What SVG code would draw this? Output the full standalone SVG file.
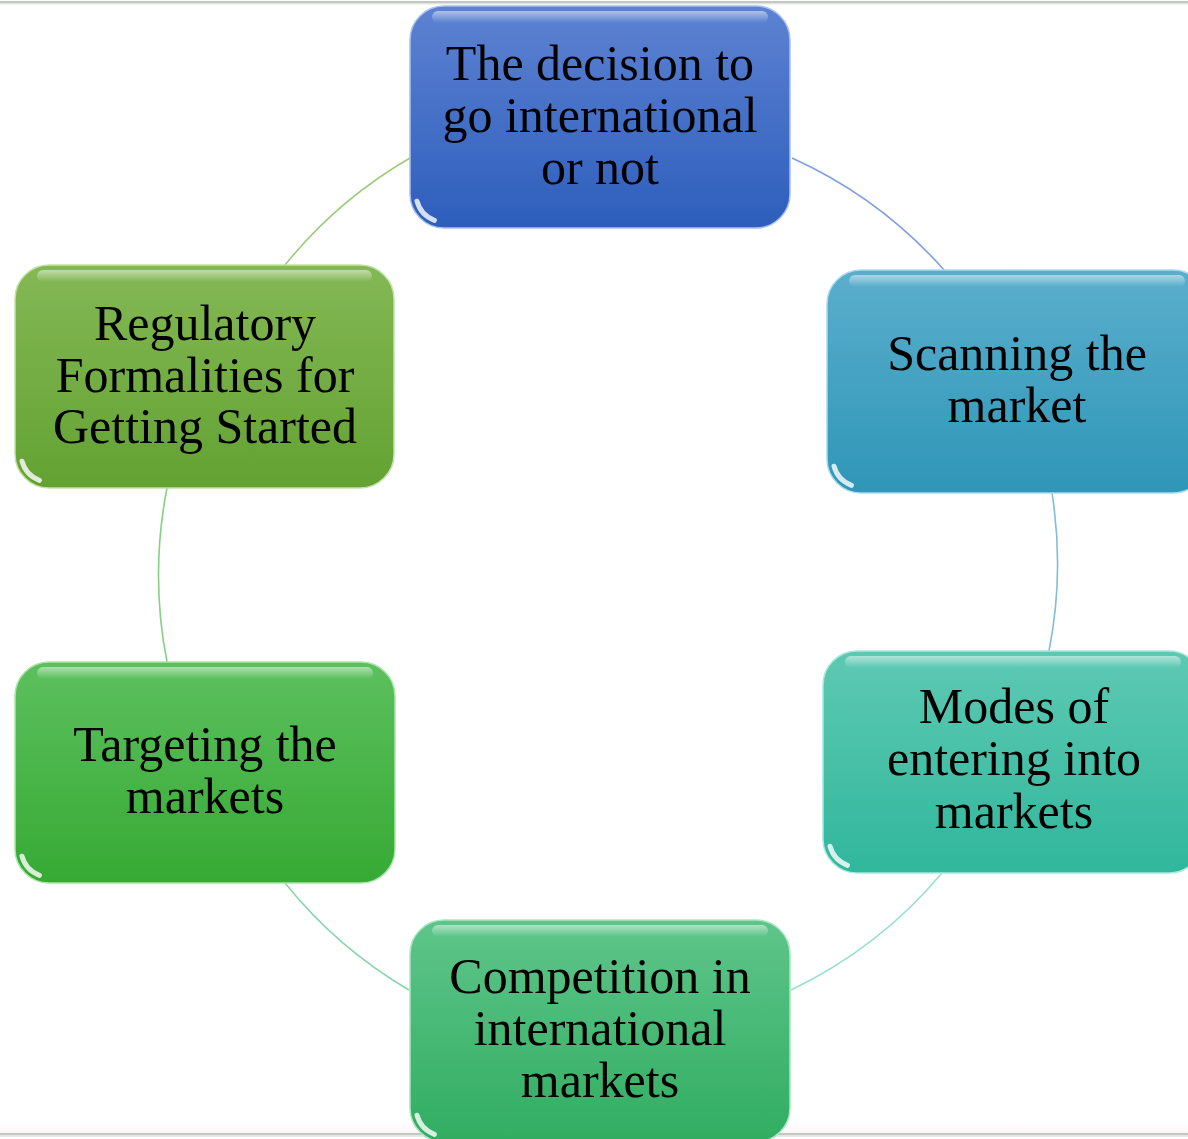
<svg xmlns="http://www.w3.org/2000/svg" width="1188" height="1139" viewBox="0 0 1188 1139">
<defs>
<linearGradient id="g1" x1="0" y1="0" x2="0" y2="1"><stop offset="0" stop-color="#5d82d2"/><stop offset="1" stop-color="#2d5ebc"/></linearGradient>
<linearGradient id="g2" x1="0" y1="0" x2="0" y2="1"><stop offset="0" stop-color="#5aaecc"/><stop offset="1" stop-color="#2f96b8"/></linearGradient>
<linearGradient id="g3" x1="0" y1="0" x2="0" y2="1"><stop offset="0" stop-color="#5ec9b3"/><stop offset="1" stop-color="#30b79c"/></linearGradient>
<linearGradient id="g4" x1="0" y1="0" x2="0" y2="1"><stop offset="0" stop-color="#5ec58a"/><stop offset="1" stop-color="#31ad61"/></linearGradient>
<linearGradient id="g5" x1="0" y1="0" x2="0" y2="1"><stop offset="0" stop-color="#5dc05e"/><stop offset="1" stop-color="#36aa34"/></linearGradient>
<linearGradient id="g6" x1="0" y1="0" x2="0" y2="1"><stop offset="0" stop-color="#84b855"/><stop offset="1" stop-color="#63a232"/></linearGradient>
<linearGradient id="shine" x1="0" y1="0" x2="0" y2="1"><stop offset="0" stop-color="#ffffff" stop-opacity="0.5"/><stop offset="1" stop-color="#ffffff" stop-opacity="0"/></linearGradient>
<linearGradient id="edge" x1="0" y1="0" x2="0" y2="1"><stop offset="0" stop-color="#fdf8fa" stop-opacity="0"/><stop offset="1" stop-color="#fbf4f7"/></linearGradient>
</defs>
<style>
.box{stroke-width:1.5}
.hl{fill:url(#shine)}
.glint{fill:none;stroke:#ffffff;stroke-width:5;stroke-linecap:round;stroke-opacity:0.8}
.lbl{font-family:"Liberation Serif","Times New Roman",serif;font-size:50px;fill:#000;text-anchor:middle}
.arc{fill:none;stroke-width:1.6}
</style>
<rect x="0" y="0" width="1188" height="1139" fill="#ffffff"/>
<rect x="0" y="1122" width="1188" height="11" fill="url(#edge)"/>
<rect x="0" y="1" width="1188" height="2.5" fill="#c3c7c3"/>
<rect x="0" y="3.5" width="1188" height="1" fill="#e3e7e3"/>
<rect x="0" y="1133" width="1188" height="2.5" fill="#c3c7c3"/>
<rect x="0" y="1135.5" width="1188" height="1.5" fill="#e6ebe6"/>

<g id="connectors">
<path class="arc" stroke="#7f9fdf" d="M792,158 A452,452 0 0 1 945,271"/>
<path class="arc" stroke="#80bdd6" d="M1052,493 A452,452 0 0 1 1049,651"/>
<path class="arc" stroke="#9adfcf" d="M942,873 A452,452 0 0 1 791,990"/>
<path class="arc" stroke="#88d5a9" d="M409,990 A452,452 0 0 1 285,883"/>
<path class="arc" stroke="#84d184" d="M167,662 A452,452 0 0 1 167,488"/>
<path class="arc" stroke="#9dcb7d" d="M285,265 A452,452 0 0 1 410,158"/>
</g>

<g id="node1">
<rect class="box" x="410" y="6" width="380" height="222" rx="34" fill="url(#g1)" stroke="#a9c0ee"/>
<rect class="hl" x="432" y="11" width="336" height="12" rx="6"/>
<path class="glint" d="M417,201.2 A28,28 0 0 0 434.4,220.3"/>
<text class="lbl"><tspan x="600" y="80">The decision to</tspan><tspan x="600" y="132">go international</tspan><tspan x="600" y="184">or not</tspan></text>
</g>

<g id="node2">
<rect class="box" x="827" y="270" width="380" height="223" rx="34" fill="url(#g2)" stroke="#a6dced"/>
<rect class="hl" x="849" y="275" width="336" height="12" rx="6"/>
<path class="glint" d="M834,466.2 A28,28 0 0 0 851.4,485.3"/>
<text class="lbl"><tspan x="1017" y="370">Scanning the</tspan><tspan x="1017" y="422">market</tspan></text>
</g>

<g id="node3">
<rect class="box" x="823" y="651" width="380" height="222" rx="34" fill="url(#g3)" stroke="#a6eadd"/>
<rect class="hl" x="845" y="656" width="336" height="12" rx="6"/>
<path class="glint" d="M830,846.2 A28,28 0 0 0 847.4,865.3"/>
<text class="lbl"><tspan x="1014" y="723">Modes of</tspan><tspan x="1014" y="775">entering into</tspan><tspan x="1014" y="828">markets</tspan></text>
</g>

<g id="node4">
<rect class="box" x="410" y="920" width="380" height="222" rx="34" fill="url(#g4)" stroke="#a8e8c2"/>
<rect class="hl" x="432" y="925" width="336" height="12" rx="6"/>
<path class="glint" d="M417,1115.2 A28,28 0 0 0 434.4,1134.3"/>
<text class="lbl"><tspan x="600" y="993">Competition in</tspan><tspan x="600" y="1045">international</tspan><tspan x="600" y="1097">markets</tspan></text>
</g>

<g id="node5">
<rect class="box" x="15" y="662" width="380" height="221" rx="34" fill="url(#g5)" stroke="#aae6aa"/>
<rect class="hl" x="37" y="667" width="336" height="12" rx="6"/>
<path class="glint" d="M22,856.2 A28,28 0 0 0 39.4,875.3"/>
<text class="lbl"><tspan x="205" y="761">Targeting the</tspan><tspan x="205" y="813">markets</tspan></text>
</g>

<g id="node6">
<rect class="box" x="15" y="265" width="379" height="223" rx="34" fill="url(#g6)" stroke="#c2e2a6"/>
<rect class="hl" x="37" y="270" width="335" height="12" rx="6"/>
<path class="glint" d="M22,461.2 A28,28 0 0 0 39.4,480.3"/>
<text class="lbl"><tspan x="205" y="340">Regulatory</tspan><tspan x="205" y="392">Formalities for</tspan><tspan x="205" y="443">Getting Started</tspan></text>
</g>
</svg>
